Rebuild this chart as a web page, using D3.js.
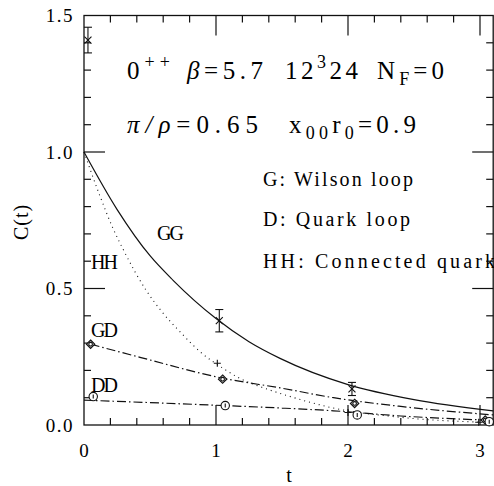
<!DOCTYPE html>
<html>
<head>
<meta charset="utf-8">
<script src="https://cdn.jsdelivr.net/npm/d3@7"></script>
<style>
  body { margin: 0; background: #fff; }
  svg { display: block; }
</style>
</head>
<body>
<div class="graph"></div>
<script>
const w = 494;
const h = 486;

// data points
const ggT = [0.03, 1.025, 2.03];
const ggV = [1.41, 0.382, 0.132];
const ggErr = [0.047, 0.041, 0.024];

const hhT = [1.01, 2.0, 2.99];
const hhV = [0.226, 0.046, 0.01];

const gdT = [0.05, 1.05, 2.05, 3.04];
const gdV = [0.296, 0.168, 0.079, 0.018];

const ddT = [0.07, 1.07, 2.07, 3.07];
const ddV = [0.104, 0.071, 0.037, 0.012];

// fitted curves
const ggCurveT = [0, 0.25, 0.5, 0.675, 1, 1.25, 1.485, 2, 2.5, 3.1];
const ggCurveV = [1.0, 0.79, 0.62, 0.53, 0.39, 0.305, 0.244, 0.148, 0.093, 0.052];
const hhCurveT = [0, 0.12, 0.22, 0.3, 0.47, 0.59, 0.74, 0.88, 1.055, 1.18, 1.36, 1.485, 1.89, 2.4, 3.1];
const hhCurveV = [1.0, 0.84, 0.72, 0.64, 0.494, 0.415, 0.335, 0.268, 0.207, 0.171, 0.136, 0.116, 0.062, 0.028, 0.009];
const gdCurveT = [0.05, 0.424, 1.055, 1.485, 1.89, 2.4, 3.1];
const gdCurveV = [0.296, 0.248, 0.171, 0.136, 0.1, 0.068, 0.037];
const ddCurveT = [0, 0.5, 1.07, 1.5, 1.89, 2.4, 3.1];
const ddCurveV = [0.091, 0.082, 0.071, 0.062, 0.052, 0.033, 0.017];

const xMajor = [0, 1, 2, 3];
const yMajor = [0.0, 0.5, 1.0, 1.5];

const x = d3.scaleLinear().domain([0, 3.1]).range([84, 493.2]);
const y = d3.scaleLinear().domain([0, 1.5]).range([425, 15.5]);

const canvas = d3.select(".graph")
                 .append("svg")
                 .attr("width", w)
                 .attr("height", h)
                 .style("font-family", "'Liberation Serif', 'Times New Roman', Times, serif");

const ink = "#111";

// frame
canvas.append("rect")
      .attr("x", x(0)).attr("y", y(1.5))
      .attr("width", x(3.1) - x(0)).attr("height", y(0) - y(1.5))
      .attr("fill", "none").attr("stroke", ink).attr("stroke-width", 1.3);

// ticks on all four sides, pointing in
const xMinor = d3.range(0, 3.11, 0.2).filter(v => Math.abs(v - Math.round(v)) > 1e-6);
const yMinor = d3.range(0, 1.51, 0.1).filter(v => Math.abs(v * 2 - Math.round(v * 2)) > 1e-6);

function ticks(vals, len) {
  vals.forEach(function(v) {
    canvas.append("line").attr("x1", x(v)).attr("x2", x(v)).attr("y1", y(0)).attr("y2", y(0) - len);
    canvas.append("line").attr("x1", x(v)).attr("x2", x(v)).attr("y1", y(1.5)).attr("y2", y(1.5) + len);
  });
}
function yticks(vals, len) {
  vals.forEach(function(v) {
    canvas.append("line").attr("x1", x(0)).attr("x2", x(0) + len).attr("y1", y(v)).attr("y2", y(v));
    canvas.append("line").attr("x1", x(3.1)).attr("x2", x(3.1) - len).attr("y1", y(v)).attr("y2", y(v));
  });
}
ticks(xMinor, 7);
ticks(xMajor.filter(v => v > 0), 20);
yticks(yMinor, 7);
yticks(yMajor.filter(v => v > 0 && v < 1.5), 21);
canvas.selectAll("line").attr("stroke", ink).attr("stroke-width", 1.2);

// tick labels
canvas.selectAll(".xl")
      .data(xMajor).enter().append("text")
      .attr("x", d => x(d)).attr("y", 457)
      .attr("text-anchor", "middle")
      .attr("font-size", 19)
      .text(d => d);
canvas.selectAll(".yl")
      .data(yMajor).enter().append("text")
      .attr("x", 74).attr("y", d => y(d) + 6.5)
      .attr("text-anchor", "end")
      .attr("font-size", 19).attr("letter-spacing", 1.5)
      .text(d => d.toFixed(1));

canvas.append("text").attr("x", 289).attr("y", 482)
      .attr("text-anchor", "middle").attr("font-size", 20).text("t");
canvas.append("text")
      .attr("transform", "translate(28,222) rotate(-90)")
      .attr("text-anchor", "middle").attr("font-size", 20).attr("letter-spacing", 1)
      .text("C(t)");

// curves
const line = d3.line().x(d => x(d[0])).y(d => y(d[1])).curve(d3.curveMonotoneX);
function curve(ts, vs, dash) {
  canvas.append("path")
        .attr("d", line(d3.zip(ts, vs)))
        .attr("fill", "none").attr("stroke", ink)
        .attr("stroke-width", dash === "1,4" ? 1.1 : 1.2)
        .attr("stroke-dasharray", dash);
}
curve(ggCurveT, ggCurveV, null);
curve(hhCurveT, hhCurveV, "1,4");
curve(gdCurveT, gdCurveV, "9,3,1.5,3");
curve(ddCurveT, ddCurveV, "9,3,1.5,3");

// markers
const g = canvas.append("g").attr("stroke", ink).attr("stroke-width", 1.1).attr("fill", "none");

d3.zip(ggT, ggV, ggErr).forEach(function([t, v, e]) {
  const cx = x(t), cy = y(v), s = 3.5;
  g.append("line").attr("x1", cx).attr("x2", cx).attr("y1", y(v - e)).attr("y2", y(v + e));
  g.append("line").attr("x1", cx - 4).attr("x2", cx + 4).attr("y1", y(v - e)).attr("y2", y(v - e));
  g.append("line").attr("x1", cx - 4).attr("x2", cx + 4).attr("y1", y(v + e)).attr("y2", y(v + e));
  g.append("path").attr("d", `M${cx - s},${cy - s}L${cx + s},${cy + s}M${cx - s},${cy + s}L${cx + s},${cy - s}`);
});

d3.zip(hhT, hhV).forEach(function([t, v]) {
  const cx = x(t), cy = y(v), s = 3.5;
  g.append("path").attr("d", `M${cx - s},${cy}L${cx + s},${cy}M${cx},${cy - s}L${cx},${cy + s}`);
});

d3.zip(gdT, gdV).forEach(function([t, v]) {
  const cx = x(t), cy = y(v), s = 4.2;
  g.append("path").attr("d", `M${cx},${cy - s}L${cx + s},${cy}L${cx},${cy + s}L${cx - s},${cy}Z`)
   .attr("fill", "#bbb");
  g.append("circle").attr("cx", cx).attr("cy", cy).attr("r", 1.8).attr("fill", "#fff");
});

d3.zip(ddT, ddV).forEach(function([t, v]) {
  const cx = x(t), cy = y(v);
  g.append("circle").attr("cx", cx).attr("cy", cy).attr("r", 4.2).attr("fill", "#fff");
  g.append("line").attr("x1", cx).attr("x2", cx).attr("y1", cy - 2).attr("y2", cy + 2);
});

// curve labels
const labels = [["GG", 157, 240], ["HH", 91, 269], ["GD", 91, 337], ["DD", 91, 392]];
canvas.selectAll(".lab")
      .data(labels).enter().append("text")
      .attr("x", d => d[1]).attr("y", d => d[2])
      .attr("font-size", 20).attr("textLength", 27)
      .text(d => d[0]);

// legend text
const legend = [["G: Wilson loop", 186, 150], ["D: Quark loop", 226, 147], ["HH: Connected quark", 268, 232]];
canvas.selectAll(".leg")
      .data(legend).enter().append("text")
      .attr("x", 263).attr("y", d => d[1])
      .attr("font-size", 20).attr("textLength", d => d[2])
      .text(d => d[0]);

// header lines
const t1 = canvas.append("g").attr("font-size", 25);
let tx = t1.append("text").attr("x", 127).attr("y", 79).attr("textLength", 43);
tx.append("tspan").text("0");
tx.append("tspan").attr("dy", -11).attr("font-size", 18).text("++");
tx = t1.append("text").attr("x", 187).attr("y", 79).attr("textLength", 76);
tx.append("tspan").attr("font-style", "italic").text("β");
tx.append("tspan").text("=5.7");
tx = t1.append("text").attr("x", 285).attr("y", 79).attr("textLength", 73);
tx.append("tspan").text("12");
tx.append("tspan").attr("dy", -11).attr("font-size", 18).text("3");
tx.append("tspan").attr("dy", 11).text("24");
tx = t1.append("text").attr("x", 377).attr("y", 79).attr("textLength", 67);
tx.append("tspan").text("N");
tx.append("tspan").attr("dy", 6).attr("font-size", 18).text("F");
tx.append("tspan").attr("dy", -6).text("=0");

tx = t1.append("text").attr("x", 127).attr("y", 133).attr("textLength", 131);
tx.append("tspan").attr("font-style", "italic").text("π/ρ");
tx.append("tspan").text("=0.65");
tx = t1.append("text").attr("x", 289).attr("y", 133).attr("textLength", 127);
tx.append("tspan").text("x");
tx.append("tspan").attr("dy", 6).attr("font-size", 18).text("00");
tx.append("tspan").attr("dy", -6).text("r");
tx.append("tspan").attr("dy", 6).attr("font-size", 18).text("0");
tx.append("tspan").attr("dy", -6).text("=0.9");
</script>
</body>
</html>
